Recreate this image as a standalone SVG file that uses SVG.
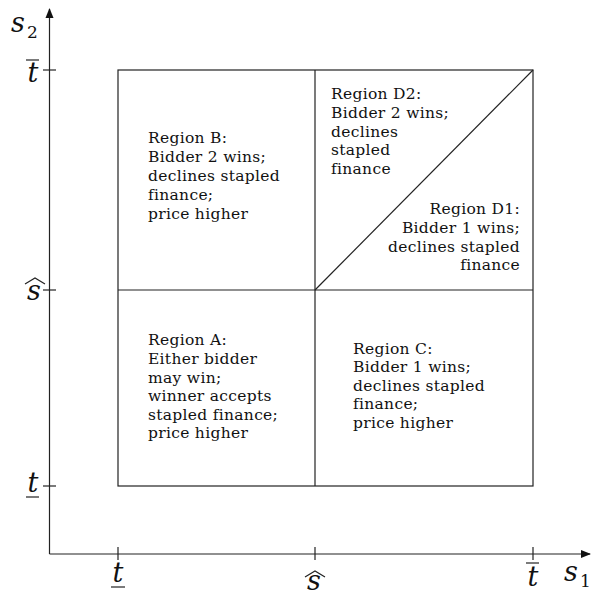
<svg xmlns="http://www.w3.org/2000/svg" width="592" height="596" viewBox="0 0 592 596">
<style>
.ln{stroke:#222;stroke-width:1.2;fill:none}
.tx{font-family:"DejaVu Serif","Liberation Serif","Times New Roman",serif;font-size:15.5px;letter-spacing:0.3px;fill:#111}
.m{font-family:"DejaVu Serif","Liberation Serif",serif;font-style:italic;font-size:27px;fill:#111}
.sub{font-family:"DejaVu Serif","Liberation Serif",serif;font-size:17px;fill:#111}
.r{text-anchor:end}
.c{text-anchor:middle}
</style>
<defs>
<marker id="ah" viewBox="0 0 10 10" refX="9" refY="5" markerWidth="10" markerHeight="10" markerUnits="userSpaceOnUse" orient="auto">
<path d="M0,1 L10,5 L0,9 Z" fill="#111"/>
</marker>
</defs>
<g id="connectors">
<line class="ln" x1="49.5" y1="554" x2="49.5" y2="9" marker-end="url(#ah)"/>
<line class="ln" x1="49.5" y1="554" x2="590" y2="554" marker-end="url(#ah)"/>
<line class="ln" x1="43" y1="70" x2="56" y2="70"/>
<line class="ln" x1="43" y1="290" x2="56" y2="290"/>
<line class="ln" x1="43" y1="486" x2="56" y2="486"/>
<line class="ln" x1="118" y1="547" x2="118" y2="560"/>
<line class="ln" x1="315" y1="547" x2="315" y2="560"/>
<line class="ln" x1="533" y1="547" x2="533" y2="560"/>
<rect class="ln" x="118" y="70" width="415" height="416"/>
<line class="ln" x1="315" y1="70" x2="315" y2="486"/>
<line class="ln" x1="118" y1="290" x2="533" y2="290"/>
<line class="ln" x1="315" y1="290" x2="533" y2="70"/>
</g>
<g id="axis-labels">
<text class="m" x="11" y="32">s</text><text class="sub" x="27" y="38">2</text>
<text class="m" x="564" y="581">s</text><text class="sub" x="580" y="587">1</text>
<text class="m c" x="33" y="82">t</text><line class="ln" x1="26" y1="60" x2="39" y2="60"/>
<text class="m c" x="34" y="300">s</text><polyline class="ln" points="25,284 35,278 45,284"/>
<text class="m c" x="33" y="492">t</text><line class="ln" x1="26" y1="497" x2="39" y2="497"/>
<text class="m c" x="118" y="582">t</text><line class="ln" x1="111" y1="587" x2="125" y2="587"/>
<text class="m c" x="314" y="590">s</text><polyline class="ln" points="305,577 315,571 325,577"/>
<text class="m c" x="533" y="586">t</text><line class="ln" x1="526" y1="563" x2="539" y2="563"/>
</g>
<g id="regionB">
<text class="tx" x="148" y="143">Region B:</text>
<text class="tx" x="148" y="162">Bidder 2 wins;</text>
<text class="tx" x="148" y="181">declines stapled</text>
<text class="tx" x="148" y="200">finance;</text>
<text class="tx" x="148" y="219">price higher</text>
</g>
<g id="regionD2">
<text class="tx" x="331" y="99">Region D2:</text>
<text class="tx" x="331" y="118">Bidder 2 wins;</text>
<text class="tx" x="331" y="137">declines</text>
<text class="tx" x="331" y="155">stapled</text>
<text class="tx" x="331" y="174">finance</text>
</g>
<g id="regionD1">
<text class="tx r" x="520" y="214">Region D1:</text>
<text class="tx r" x="520" y="233">Bidder 1 wins;</text>
<text class="tx r" x="520" y="252">declines stapled</text>
<text class="tx r" x="520" y="270">finance</text>
</g>
<g id="regionA">
<text class="tx" x="148" y="345">Region A:</text>
<text class="tx" x="148" y="364">Either bidder</text>
<text class="tx" x="148" y="383">may win;</text>
<text class="tx" x="148" y="401">winner accepts</text>
<text class="tx" x="148" y="420">stapled finance;</text>
<text class="tx" x="148" y="438">price higher</text>
</g>
<g id="regionC">
<text class="tx" x="353" y="354">Region C:</text>
<text class="tx" x="353" y="372">Bidder 1 wins;</text>
<text class="tx" x="353" y="391">declines stapled</text>
<text class="tx" x="353" y="409">finance;</text>
<text class="tx" x="353" y="428">price higher</text>
</g>
</svg>
